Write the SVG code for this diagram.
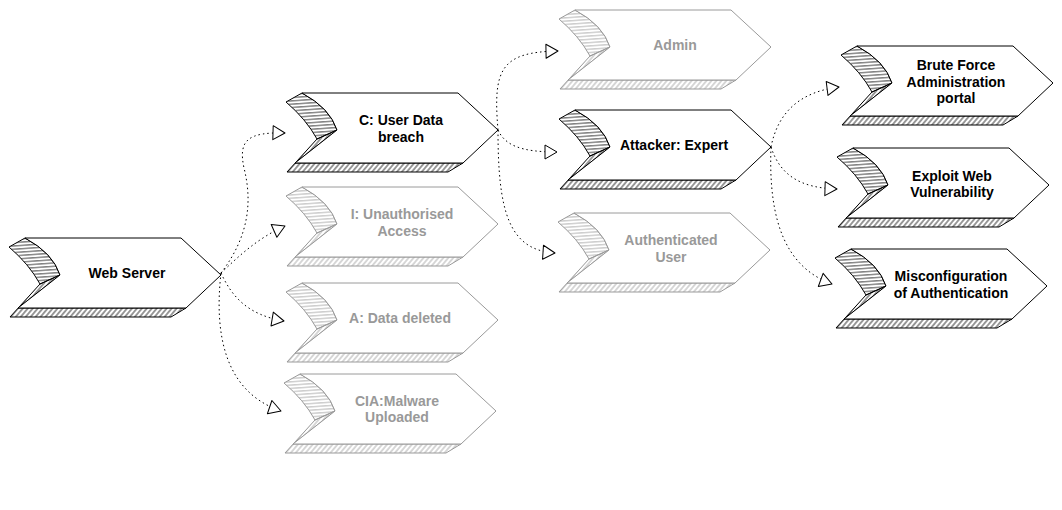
<svg xmlns="http://www.w3.org/2000/svg" width="1062" height="510" viewBox="0 0 1062 510">
<style>
  .node path { stroke-width: 1; stroke-linejoin: round; }
  .dark path { stroke: #000; }
  .grey path { stroke: #9a9a9a; }
  .dark .cres { fill: url(#hH); }
  .dark .band { fill: url(#hD); }
  .grey .cres { fill: url(#gH); }
  .grey .band { fill: url(#gD); }
  .body { fill: #fff; }
  text { font-family: "Liberation Sans", Arial, Helvetica, sans-serif; font-size: 14px; font-weight: bold; text-anchor: middle; }
  .dark text { fill: #000; }
  .grey text { fill: #999; }
  .edge { fill: none; stroke: #000; stroke-width: 1; stroke-dasharray: 1.5 3; marker-end: url(#arr); }
</style>
<defs>
  <pattern id="hH" width="4" height="3.3" patternUnits="userSpaceOnUse" patternTransform="rotate(-4)"><path d="M0,1.6 H4" stroke="#000" stroke-width="0.8"/></pattern>
  <pattern id="hD" width="4" height="3.8" patternUnits="userSpaceOnUse" patternTransform="rotate(-50)"><path d="M0,1.9 H4" stroke="#000" stroke-width="0.8"/></pattern>
  <pattern id="gH" width="4" height="3.3" patternUnits="userSpaceOnUse" patternTransform="rotate(-4)"><path d="M0,1.6 H4" stroke="#9a9a9a" stroke-width="0.8"/></pattern>
  <pattern id="gD" width="4" height="3.8" patternUnits="userSpaceOnUse" patternTransform="rotate(-50)"><path d="M0,1.9 H4" stroke="#9a9a9a" stroke-width="0.8"/></pattern>
  <marker id="arr" viewBox="0 0 14 16" refX="13" refY="8" markerWidth="14" markerHeight="16" markerUnits="userSpaceOnUse" orient="auto">
    <path d="M1,1 L13,8 L1,15 Z" fill="#fff" stroke="#000" stroke-width="1" stroke-linejoin="round"/>
  </marker>
</defs>

<g id="connectors">
  <path class="edge" d="M221,273 C250,235 252,200 244,168 C238,140 248,132 285,133"/>
  <path class="edge" d="M221,273 C240,255 258,238 285,226"/>
  <path class="edge" d="M221,273 C232,297 248,315 284,321"/>
  <path class="edge" d="M221,273 C214,335 225,392 281,411"/>
  <path class="edge" d="M498,130 C493,70 500,52 558,51"/>
  <path class="edge" d="M498,130 C505,145 520,152 557,152"/>
  <path class="edge" d="M498,130 C498,210 508,250 555,253"/>
  <path class="edge" d="M771,147 C778,112 800,92 839,87"/>
  <path class="edge" d="M771,147 C780,175 800,188 837,189"/>
  <path class="edge" d="M771,147 C768,225 788,268 832,284"/>
</g>

<g id="node-web-server" class="node dark" transform="translate(10,238)">
  <path class="cres" d="M-1,9 L15,0 Q43,15 50,37 L30,46 Q19,26 -1,9 Z"/>
  <path class="band" d="M30,46 L0,79 L161,79 L176,70 L8,70 L50,37 Z"/>
  <path class="body" d="M15,0 L171,0 L211,37 L176,70 L8,70 L50,37 Q43,15 15,0 Z"/>
  <text x="117" y="40">Web Server</text>
</g>

<g id="node-c" class="node dark" transform="translate(287,93)">
  <path class="cres" d="M-1,9 L15,0 Q43,15 50,37 L30,46 Q19,26 -1,9 Z"/>
  <path class="band" d="M30,46 L0,79 L161,79 L176,70 L8,70 L50,37 Z"/>
  <path class="body" d="M15,0 L171,0 L211,37 L176,70 L8,70 L50,37 Q43,15 15,0 Z"/>
  <text x="114" y="32">C: User Data</text>
  <text x="114" y="48.5">breach</text>
</g>

<g id="node-i" class="node grey" transform="translate(287,187)">
  <path class="cres" d="M-1,9 L15,0 Q43,15 50,37 L30,46 Q19,26 -1,9 Z"/>
  <path class="band" d="M30,46 L0,79 L161,79 L176,70 L8,70 L50,37 Z"/>
  <path class="body" d="M15,0 L171,0 L211,37 L176,70 L8,70 L50,37 Q43,15 15,0 Z"/>
  <text x="115" y="32">I: Unauthorised</text>
  <text x="115" y="48.5">Access</text>
</g>

<g id="node-a" class="node grey" transform="translate(287,283)">
  <path class="cres" d="M-1,9 L15,0 Q43,15 50,37 L30,46 Q19,26 -1,9 Z"/>
  <path class="band" d="M30,46 L0,79 L161,79 L176,70 L8,70 L50,37 Z"/>
  <path class="body" d="M15,0 L171,0 L211,37 L176,70 L8,70 L50,37 Q43,15 15,0 Z"/>
  <text x="113" y="40">A: Data deleted</text>
</g>

<g id="node-cia" class="node grey" transform="translate(285,374)">
  <path class="cres" d="M-1,9 L15,0 Q43,15 50,37 L30,46 Q19,26 -1,9 Z"/>
  <path class="band" d="M30,46 L0,79 L161,79 L176,70 L8,70 L50,37 Z"/>
  <path class="body" d="M15,0 L171,0 L211,37 L176,70 L8,70 L50,37 Q43,15 15,0 Z"/>
  <text x="112" y="31.5">CIA:Malware</text>
  <text x="112" y="48">Uploaded</text>
</g>

<g id="node-admin" class="node grey" transform="translate(560,10)">
  <path class="cres" d="M-1,9 L15,0 Q43,15 50,37 L30,46 Q19,26 -1,9 Z"/>
  <path class="band" d="M30,46 L0,79 L161,79 L176,70 L8,70 L50,37 Z"/>
  <path class="body" d="M15,0 L171,0 L211,37 L176,70 L8,70 L50,37 Q43,15 15,0 Z"/>
  <text x="115" y="40">Admin</text>
</g>

<g id="node-attacker" class="node dark" transform="translate(560,110)">
  <path class="cres" d="M-1,9 L15,0 Q43,15 50,37 L30,46 Q19,26 -1,9 Z"/>
  <path class="band" d="M30,46 L0,79 L161,79 L176,70 L8,70 L50,37 Z"/>
  <path class="body" d="M15,0 L171,0 L211,37 L176,70 L8,70 L50,37 Q43,15 15,0 Z"/>
  <text x="114" y="40">Attacker: Expert</text>
</g>

<g id="node-auth-user" class="node grey" transform="translate(559,213)">
  <path class="cres" d="M-1,9 L15,0 Q43,15 50,37 L30,46 Q19,26 -1,9 Z"/>
  <path class="band" d="M30,46 L0,79 L161,79 L176,70 L8,70 L50,37 Z"/>
  <path class="body" d="M15,0 L171,0 L211,37 L176,70 L8,70 L50,37 Q43,15 15,0 Z"/>
  <text x="112" y="32">Authenticated</text>
  <text x="112" y="48.5">User</text>
</g>

<g id="node-brute-force" class="node dark" transform="translate(842,46)">
  <path class="cres" d="M-1,9 L15,0 Q43,15 50,37 L30,46 Q19,26 -1,9 Z"/>
  <path class="band" d="M30,46 L0,79 L161,79 L176,70 L8,70 L50,37 Z"/>
  <path class="body" d="M15,0 L171,0 L211,37 L176,70 L8,70 L50,37 Q43,15 15,0 Z"/>
  <text x="114" y="24">Brute Force</text>
  <text x="114" y="40.5">Administration</text>
  <text x="114" y="57">portal</text>
</g>

<g id="node-exploit" class="node dark" transform="translate(838,148)">
  <path class="cres" d="M-1,9 L15,0 Q43,15 50,37 L30,46 Q19,26 -1,9 Z"/>
  <path class="band" d="M30,46 L0,79 L161,79 L176,70 L8,70 L50,37 Z"/>
  <path class="body" d="M15,0 L171,0 L211,37 L176,70 L8,70 L50,37 Q43,15 15,0 Z"/>
  <text x="114" y="32.5">Exploit Web</text>
  <text x="114" y="49">Vulnerability</text>
</g>

<g id="node-misconfig" class="node dark" transform="translate(836,249)">
  <path class="cres" d="M-1,9 L15,0 Q43,15 50,37 L30,46 Q19,26 -1,9 Z"/>
  <path class="band" d="M30,46 L0,79 L161,79 L176,70 L8,70 L50,37 Z"/>
  <path class="body" d="M15,0 L171,0 L211,37 L176,70 L8,70 L50,37 Q43,15 15,0 Z"/>
  <text x="115" y="32">Misconfiguration</text>
  <text x="115" y="48.5">of Authentication</text>
</g>
</svg>
